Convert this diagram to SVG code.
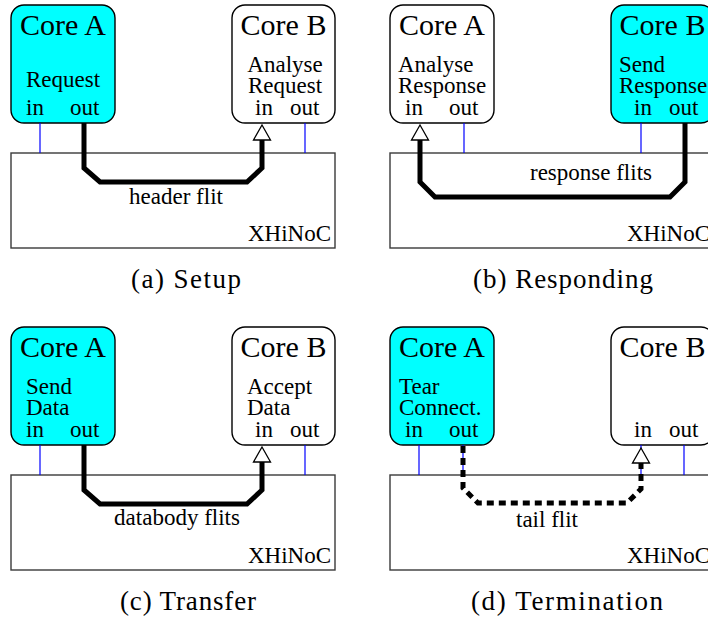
<svg xmlns="http://www.w3.org/2000/svg" width="708" height="618" viewBox="0 0 708 618" font-family="'Liberation Serif', 'DejaVu Serif', serif">
  <style>
    text { font-family: "Liberation Serif", "DejaVu Serif", "Noto Serif", serif; fill: #000; }
    .title { font-size: 30px; text-anchor: middle; }
    .lbl { font-size: 23px; }
    .mid { text-anchor: middle; }
    .end { text-anchor: end; }
    .cap { font-size: 27px; text-anchor: middle; }
    .core { stroke: #000; stroke-width: 1.4; }
    .active { fill: #00ffff; }
    .idle { fill: #ffffff; }
    .noc { fill: #ffffff; stroke: #3a3a3a; stroke-width: 1.4; }
    .port { stroke: #0000ff; stroke-width: 1.2; fill: none; }
    .flow { fill: none; stroke: #000; stroke-width: 5; stroke-linejoin: miter; marker-end: url(#head); }
    .dash { stroke-dasharray: 7 5; }
  </style>
  <defs>
    <marker id="head" markerUnits="userSpaceOnUse" markerWidth="20" markerHeight="20" viewBox="-1 -10 18 20" refX="0" refY="0" orient="auto" overflow="visible">
      <path d="M0,-8.5 L15,0 L0,8.5 Z" fill="#fff" stroke="#000" stroke-width="1.3" stroke-dasharray="none"/>
    </marker>
    <rect id="boxA" x="11" y="5" width="104" height="118" rx="13"/>
    <rect id="boxB" x="232" y="5" width="103" height="118" rx="13"/>
  </defs>

  <!-- (a) Setup -->
  <g id="panel-a">
    <g id="a-noc">
      <rect class="noc" x="11" y="153" width="324" height="95"/>
      <text class="lbl end" x="331" y="241">XHiNoC</text>
    </g>
    <g id="a-coreA">
      <use href="#boxA" class="core active"/>
      <text class="title" x="63" y="35">Core A</text>
      <text class="lbl mid" x="63" y="87">Request</text>
      <text class="lbl" x="26" y="115">in</text>
      <text class="lbl" x="70" y="115">out</text>
    </g>
    <g id="a-coreB">
      <use href="#boxB" class="core idle"/>
      <text class="title" x="283.5" y="35">Core B</text>
      <text class="lbl mid" x="285" y="72">Analyse</text>
      <text class="lbl mid" x="285" y="93">Request</text>
      <text class="lbl" x="255" y="115">in</text>
      <text class="lbl" x="290" y="115">out</text>
    </g>
    <g id="a-connectors">
      <line class="port" x1="40" y1="123" x2="40" y2="153"/>
      <line class="port" x1="305" y1="123" x2="305" y2="153"/>
      <path class="flow" d="M84,123 V168 L100,182 H247 L262,168 V140"/>
      <text class="lbl mid" x="176" y="204">header flit</text>
    </g>
    <text class="cap" x="186" y="288" textLength="110" lengthAdjust="spacing">(a) Setup</text>
  </g>

  <!-- (b) Responding -->
  <g id="panel-b" transform="translate(379,0)">
    <g id="b-noc">
      <rect class="noc" x="11" y="153" width="324" height="95"/>
      <text class="lbl end" x="331" y="241">XHiNoC</text>
    </g>
    <g id="b-coreA">
      <use href="#boxA" class="core idle"/>
      <text class="title" x="63" y="35">Core A</text>
      <text class="lbl" x="19" y="72">Analyse</text>
      <text class="lbl" x="19" y="93">Response</text>
      <text class="lbl" x="26" y="115">in</text>
      <text class="lbl" x="70" y="115">out</text>
    </g>
    <g id="b-coreB">
      <use href="#boxB" class="core active"/>
      <text class="title" x="283.5" y="35">Core B</text>
      <text class="lbl" x="240" y="72">Send</text>
      <text class="lbl" x="240" y="93">Response</text>
      <text class="lbl" x="255" y="115">in</text>
      <text class="lbl" x="290" y="115">out</text>
    </g>
    <g id="b-connectors">
      <line class="port" x1="85" y1="123" x2="85" y2="153"/>
      <line class="port" x1="262" y1="123" x2="262" y2="153"/>
      <path class="flow" d="M306,123 V182 L291,197 H56 L41,182 V140"/>
      <text class="lbl mid" x="212" y="180">response flits</text>
    </g>
    <text class="cap" x="184" y="288" textLength="180" lengthAdjust="spacing">(b) Responding</text>
  </g>

  <!-- (c) Transfer -->
  <g id="panel-c" transform="translate(0,322)">
    <g id="c-noc">
      <rect class="noc" x="11" y="153" width="324" height="95"/>
      <text class="lbl end" x="331" y="241">XHiNoC</text>
    </g>
    <g id="c-coreA">
      <use href="#boxA" class="core active"/>
      <text class="title" x="63" y="35">Core A</text>
      <text class="lbl" x="26" y="72">Send</text>
      <text class="lbl" x="26" y="93">Data</text>
      <text class="lbl" x="26" y="115">in</text>
      <text class="lbl" x="70" y="115">out</text>
    </g>
    <g id="c-coreB">
      <use href="#boxB" class="core idle"/>
      <text class="title" x="283.5" y="35">Core B</text>
      <text class="lbl" x="247" y="72">Accept</text>
      <text class="lbl" x="247" y="93">Data</text>
      <text class="lbl" x="255" y="115">in</text>
      <text class="lbl" x="290" y="115">out</text>
    </g>
    <g id="c-connectors">
      <line class="port" x1="40" y1="123" x2="40" y2="153"/>
      <line class="port" x1="305" y1="123" x2="305" y2="153"/>
      <path class="flow" d="M84,123 V168 L100,182 H247 L262,168 V140"/>
      <text class="lbl mid" x="177" y="203">databody flits</text>
    </g>
    <text class="cap" x="188" y="288" textLength="136" lengthAdjust="spacing">(c) Transfer</text>
  </g>

  <!-- (d) Termination -->
  <g id="panel-d" transform="translate(379,322)">
    <g id="d-noc">
      <rect class="noc" x="11" y="153" width="324" height="95"/>
      <text class="lbl end" x="331" y="241">XHiNoC</text>
    </g>
    <g id="d-coreA">
      <use href="#boxA" class="core active"/>
      <text class="title" x="63" y="35">Core A</text>
      <text class="lbl" x="20" y="72">Tear</text>
      <text class="lbl" x="20" y="93">Connect.</text>
      <text class="lbl" x="26" y="115">in</text>
      <text class="lbl" x="70" y="115">out</text>
    </g>
    <g id="d-coreB">
      <use href="#boxB" class="core idle"/>
      <text class="title" x="283.5" y="35">Core B</text>
      <text class="lbl" x="255" y="115">in</text>
      <text class="lbl" x="290" y="115">out</text>
    </g>
    <g id="d-connectors">
      <line class="port" x1="40" y1="123" x2="40" y2="153"/>
      <line class="port" x1="84" y1="123" x2="84" y2="153"/>
      <line class="port" x1="262" y1="123" x2="262" y2="153"/>
      <line class="port" x1="305" y1="123" x2="305" y2="153"/>
      <path class="flow dash" d="M84,124 V166 L99,181 H248 L262,167 V141"/>
      <text class="lbl mid" x="168" y="205">tail flit</text>
    </g>
    <text class="cap" x="188" y="288" textLength="192" lengthAdjust="spacing">(d) Termination</text>
  </g>
</svg>
